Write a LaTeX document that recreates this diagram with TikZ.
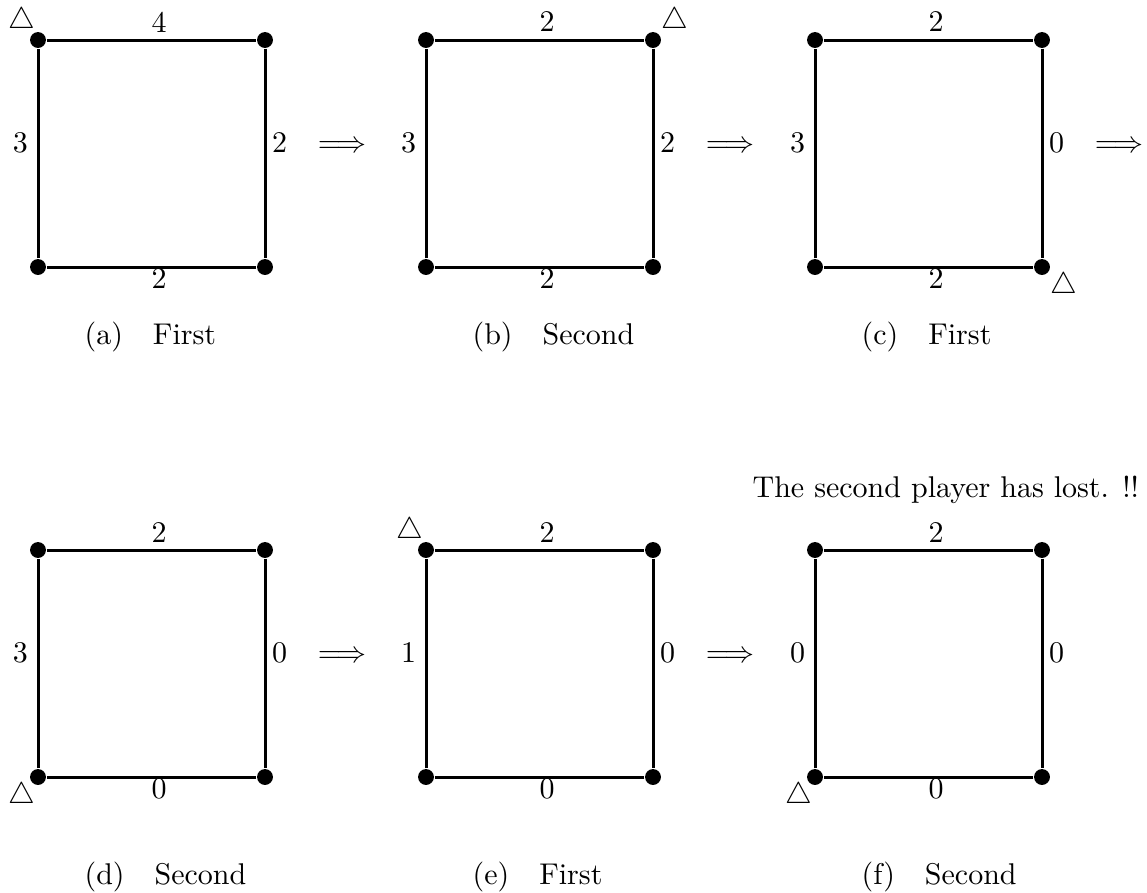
\documentclass[tikz,border=0pt]{standalone}
\begin{document}
\begin{tikzpicture}[x=0.33333pt,y=-0.33333pt,
  dot/.style={circle,fill=black,inner sep=0pt,minimum size=5.3pt},
  sqedge/.style={line width=1pt},
  lab/.style={inner sep=0pt},
  capt/.style={inner sep=0pt,anchor=base west},
  tri/.style={inner sep=0pt}]
\useasboundingbox (0,0) rectangle (1147,892);
\foreach \n/\x/\y/\t/\l/\r/\b in {a/38/40/4/3/2/2, b/426/40/2/3/2/2, c/815/40/2/3/0/2,
  d/38/550/2/3/0/0, e/426/550/2/1/0/0, f/815/550/2/0/0/0}{
  \node[dot] (\n-tl) at (\x,\y) {};
  \node[dot] (\n-tr) at (\x+227,\y) {};
  \node[dot] (\n-bl) at (\x,\y+227) {};
  \node[dot] (\n-br) at (\x+227,\y+227) {};
  \draw[sqedge] (\n-tl) -- (\n-tr) -- (\n-br) -- (\n-bl) -- (\n-tl);
  \node[lab] (\n-top) at (\x+121,\y-18) {\t};
  \node[lab] (\n-bot) at (\x+121,\y+238.5) {\b};
  \node[lab,anchor=base] (\n-left) at (\x-17.5,\y+112) {\l};
  \node[lab,anchor=base] (\n-right) at (\x+241.5,\y+112) {\r};
}
% arrows
\node[lab,anchor=base] (ar1) at (342,152) {$\Longrightarrow$};
\node[lab,anchor=base] (ar2) at (730,152) {$\Longrightarrow$};
\node[lab,anchor=base] (ar3) at (1119,152) {$\Longrightarrow$};
\node[lab,anchor=base] (ar4) at (342,662) {$\Longrightarrow$};
\node[lab,anchor=base] (ar5) at (730,662) {$\Longrightarrow$};
% triangles
\node[tri] (ta) at (22,20.5) {$\triangle$};
\node[tri] (tb) at (675,21) {$\triangle$};
\node[tri] (tc) at (1063.5,286) {$\triangle$};
\node[tri] (td) at (22,796) {$\triangle$};
\node[tri] (te) at (410,530.5) {$\triangle$};
\node[tri] (tf) at (799,796) {$\triangle$};
% captions
\node[capt] (capa) at (84,344) {(a)\quad First};
\node[capt] (capb) at (472,344) {(b)\quad Second};
\node[capt] (capc) at (861,344) {(c)\quad First};
\node[capt] (capd) at (84,884) {(d)\quad Second};
\node[capt] (cape) at (472,884) {(e)\quad First};
\node[capt] (capf) at (861,884) {(f)\quad Second};
% message
\node[inner sep=0pt,anchor=base west] (msg) at (752,497) {The second player has lost. !!};
\end{tikzpicture}
\end{document}
